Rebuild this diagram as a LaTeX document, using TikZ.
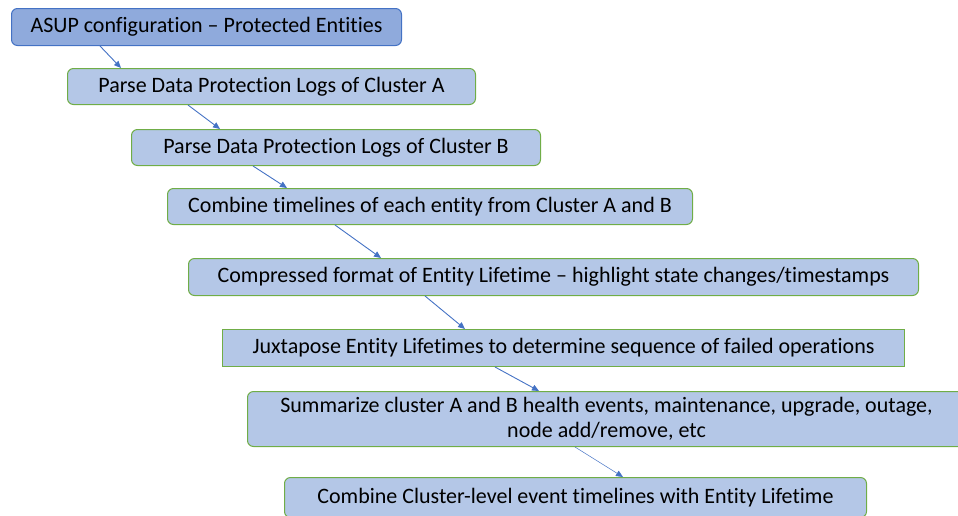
\documentclass[tikz,border=0pt]{standalone}
\usepackage{fontspec}
\setmainfont{Carlito}[RawFeature=-liga]
\usetikzlibrary{arrows.meta}
\definecolor{topfill}{HTML}{8FAADC}
\definecolor{topline}{HTML}{4472C4}
\definecolor{boxfill}{HTML}{B4C7E7}
\definecolor{boxline}{HTML}{70AD47}
\definecolor{arrowc}{HTML}{4472C4}
\begin{document}
\begin{tikzpicture}[x=1pt,y=-1pt,
  stepbox/.style={draw=boxline, fill=boxfill, line width=1pt, rounded corners=6pt,
    anchor=north west, inner sep=0pt, align=center, font=\fontsize{22}{25}\selectfont},
  topbox/.style={stepbox, draw=topline, fill=topfill},
  flow/.style={draw=arrowc, line width=0.9pt, -{Triangle[length=7pt,width=6pt]}},
  thinflow/.style={flow, line width=0.5pt}]
\useasboundingbox (0,0) rectangle (958,515);
\clip (0,0) rectangle (958,515);
\node[topbox, minimum width=390pt, minimum height=37pt] (n1) at (11,8) {ASUP configuration – Protected Entities};
\node[stepbox, minimum width=408pt, minimum height=36pt] (n2) at (67,68) {Parse Data Protection Logs of Cluster A};
\node[stepbox, minimum width=409pt, minimum height=36pt] (n3) at (131,129) {Parse Data Protection Logs of Cluster B};
\node[stepbox, minimum width=525pt, minimum height=36pt] (n4) at (167,188) {Combine timelines of each entity from Cluster A and B};
\node[stepbox, minimum width=730pt, minimum height=37pt] (n5) at (188,258) {Compressed format of Entity Lifetime – highlight state changes/timestamps};
\node[stepbox, rounded corners=0pt, minimum width=682pt, minimum height=37pt] (n6) at (222,329) {Juxtapose Entity Lifetimes to determine sequence of failed operations};
\node[stepbox, minimum width=718pt, minimum height=55pt] (n7) at (247,391) {Summarize cluster A and B health events, maintenance, upgrade, outage,\\node add/remove, etc};
\node[stepbox, minimum width=582pt, minimum height=40pt] (n8) at (284,477) {Combine Cluster-level event timelines with Entity Lifetime};
\draw[flow] ([xshift=89pt]n1.south west) -- ([xshift=54pt]n2.north west);
\draw[flow] ([xshift=121pt]n2.south west) -- ([xshift=89pt]n3.north west);
\draw[flow] ([xshift=122pt]n3.south west) -- ([xshift=120pt]n4.north west);
\draw[flow] ([xshift=168pt]n4.south west) -- ([xshift=193pt]n5.north west);
\draw[flow] ([xshift=237pt]n5.south west) -- ([xshift=243pt]n6.north west);
\draw[flow] ([xshift=273pt]n6.south west) -- ([xshift=292pt]n7.north west);
\draw[thinflow] ([xshift=328pt]n7.south west) -- ([xshift=339pt]n8.north west);
\end{tikzpicture}
\end{document}
